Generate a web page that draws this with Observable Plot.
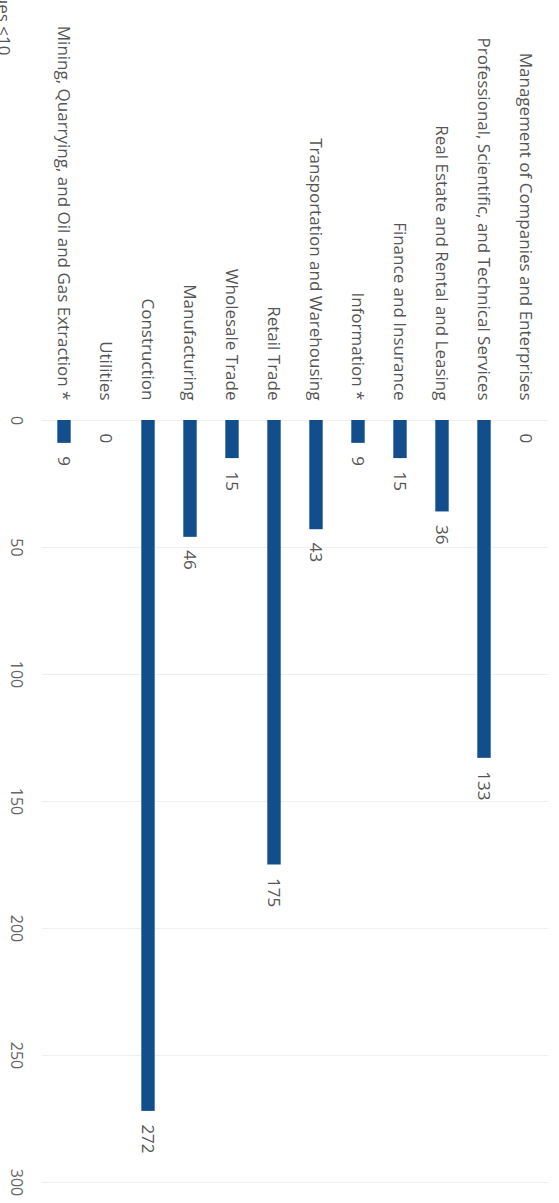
<!DOCTYPE html>
<html>
<head>
<meta charset="utf-8">
<script src="https://cdn.jsdelivr.net/npm/d3@7"></script>
<script src="https://cdn.jsdelivr.net/npm/@observablehq/plot@0.6"></script>
<style>
  html, body { margin: 0; padding: 0; background: #fff; overflow: hidden; width: 559px; height: 1203px; }
  #wrap { position: absolute; left: 0; top: 0; width: 1203px; height: 559px; transform-origin: 0 0; transform: translate(559px, 0) rotate(90deg); }
</style>
</head>
<body>
<div id="wrap"></div>
<script>
const categories = [
  "Management of Companies and Enterprises",
  "Professional, Scientific, and Technical Services",
  "Real Estate and Rental and Leasing",
  "Finance and Insurance",
  "Information *",
  "Transportation and Warehousing",
  "Retail Trade",
  "Wholesale Trade",
  "Manufacturing",
  "Construction",
  "Utilities",
  "Mining, Quarrying, and Oil and Gas Extraction *"
];
const values = [0, 133, 36, 15, 9, 43, 175, 15, 46, 272, 0, 9];
const xTicks = [0, 50, 100, 150, 200, 250, 300];
const footnote = "* Values <10";

const data = categories.map((c, i) => ({category: c, value: values[i]}));

const chart = Plot.plot({
  width: 1203,
  height: 559,
  marginTop: 11,
  marginBottom: 42,
  marginLeft: 420,
  marginRight: 21,
  style: {fontFamily: "'Open Sans', 'Noto Sans', sans-serif", fontSize: "17px", color: "#555", background: "#fff"},
  x: {domain: [0, 300], ticks: xTicks},
  y: {domain: categories, padding: 0},
  marks: [
    Plot.gridX(xTicks, {stroke: "#efefef", strokeOpacity: 1}),
    Plot.barX(data, {x: "value", y: "category", fill: "#124e8c", insetTop: 14.3, insetBottom: 14.3}),
    Plot.text(data, {x: "value", y: "category", text: d => String(d.value), textAnchor: "start", dx: 13, fill: "#555", fontSize: 17}),
    Plot.axisY({tickSize: 0, tickPadding: 20, fill: "#555", label: null, textOverflow: null, fontSize: 17}),
    Plot.axisX({ticks: xTicks, tickSize: 0, tickPadding: 19, fill: "#666", label: null, fontSize: 16}),
    Plot.text([footnote], {frameAnchor: "bottom-left", textAnchor: "end", lineAnchor: "top", dx: -365, dy: 31, fill: "#555", fontSize: 17})
  ]
});
document.getElementById("wrap").appendChild(chart);
</script>
</body>
</html>
